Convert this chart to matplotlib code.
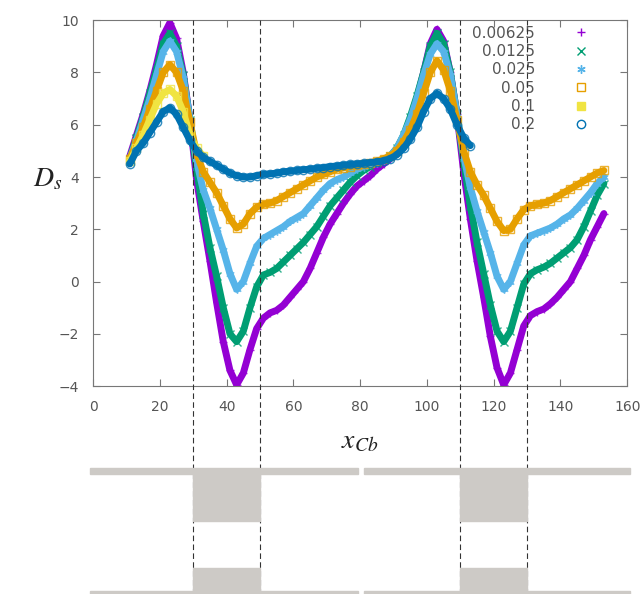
import numpy as np
import matplotlib
matplotlib.use('Agg')
import matplotlib.pyplot as plt
from matplotlib.lines import Line2D
from matplotlib.patches import Rectangle

plt.rcParams['mathtext.fontset'] = 'stix'

# Data (x step 2)
x_full = np.arange(11, 154, 2)
x_yellow = np.arange(11, 34, 2)
x_blue = np.arange(11, 114, 2)

ds_00625 = [4.8, 5.6, 6.4, 7.3, 8.3, 9.4, 9.9, 9.3, 8.0, 6.2,
            3.9, 2.3, 0.8, -0.8, -2.3, -3.4, -3.95, -3.5, -2.6, -1.8,
            -1.4, -1.2, -1.1, -0.9, -0.6, -0.3, 0.0, 0.5, 1.1, 1.7,
            2.2, 2.6, 3.0, 3.35, 3.65, 3.85, 4.05, 4.3, 4.5, 4.7,
            5.0, 5.5, 6.2, 7.0, 8.0, 9.1, 9.65, 9.2, 8.0, 6.4,
            4.2, 2.4, 0.8, -0.6, -2.1, -3.3, -3.95, -3.5, -2.6, -1.7,
            -1.3, -1.15, -1.05, -0.85, -0.6, -0.3, 0.0, 0.5, 1.0, 1.6,
            2.1, 2.6]
ds_0125 = [4.7, 5.5, 6.3, 7.2, 8.1, 9.1, 9.5, 9.0, 7.9, 6.2,
           4.3, 2.6, 1.3, 0.2, -1.0, -2.0, -2.3, -1.9, -1.0, -0.2,
           0.25, 0.35, 0.5, 0.75, 1.0, 1.25, 1.5, 1.8, 2.1, 2.5,
           2.9, 3.2, 3.5, 3.8, 4.05, 4.25, 4.4, 4.55, 4.65, 4.8,
           5.1, 5.6, 6.3, 7.1, 8.0, 9.0, 9.5, 9.1, 8.0, 6.4,
           4.6, 2.9, 1.5, 0.3, -0.9, -1.9, -2.3, -1.9, -1.0, -0.1,
           0.3, 0.45, 0.55, 0.7, 0.9, 1.1, 1.3, 1.6, 2.1, 2.7,
           3.3, 3.75]
ds_025 = [4.7, 5.4, 6.2, 7.0, 7.9, 8.8, 9.2, 8.8, 7.8, 6.2,
          4.6, 3.5, 2.8, 2.0, 1.2, 0.3, -0.3, 0.0, 0.7, 1.35,
          1.65, 1.8, 1.95, 2.1, 2.3, 2.45, 2.6, 2.9, 3.2, 3.5,
          3.75, 3.9, 4.0, 4.15, 4.3, 4.4, 4.5, 4.55, 4.65, 4.8,
          5.1, 5.6, 6.2, 7.0, 7.9, 8.7, 9.1, 8.8, 7.9, 6.4,
          4.8, 3.6, 2.7, 1.9, 1.1, 0.2, -0.3, 0.0, 0.7, 1.4,
          1.75, 1.85, 1.95, 2.05, 2.2, 2.4, 2.55, 2.8, 3.1, 3.4,
          3.75, 4.0]
ds_05 = [4.7, 5.3, 5.9, 6.6, 7.3, 8.0, 8.3, 8.0, 7.3, 6.1,
         4.9, 4.2, 3.8, 3.4, 2.9, 2.4, 2.05, 2.2, 2.6, 2.85,
         2.95, 3.0, 3.1, 3.25, 3.4, 3.55, 3.7, 3.85, 4.0, 4.1,
         4.2, 4.3, 4.35, 4.4, 4.45, 4.5, 4.55, 4.6, 4.7, 4.8,
         5.0, 5.35, 5.8, 6.4, 7.2, 8.0, 8.45, 8.1, 7.3, 6.2,
         5.0, 4.2, 3.7, 3.3, 2.8, 2.3, 1.95, 2.0, 2.4, 2.75,
         2.9, 2.95, 3.0, 3.1, 3.25, 3.4, 3.55, 3.7, 3.85, 4.0,
         4.15, 4.25]
ds_1 = [4.6, 5.1, 5.6, 6.2, 6.8, 7.2, 7.35, 7.1, 6.5, 5.6, 5.1, 4.8]
ds_2 = [4.5, 5.0, 5.3, 5.7, 6.1, 6.5, 6.65, 6.4, 5.9, 5.4,
        5.0, 4.75, 4.6, 4.45, 4.3, 4.15, 4.05, 4.0, 4.0, 4.05,
        4.1, 4.12, 4.15, 4.2, 4.22, 4.25, 4.28, 4.3, 4.33, 4.36,
        4.4, 4.42, 4.45, 4.48, 4.5, 4.52, 4.55, 4.58, 4.62, 4.7,
        4.85, 5.1, 5.45, 5.9, 6.5, 7.0, 7.2, 7.0, 6.6, 6.0,
        5.5, 5.2]

labels = ['0.00625', '0.0125', '0.025', '0.05', '0.1', '0.2']
xs = [x_full, x_full, x_full, x_full, x_yellow, x_blue]
ys = [ds_00625, ds_0125, ds_025, ds_05, ds_1, ds_2]
colors = ['#9400D3', '#009E73', '#56B4E9', '#E69F00', '#F0E442', '#0072B2']
markers = ['+', 'x', (6, 2, 0), 's', 's', 'o']
filled = [True, True, True, False, True, False]

# interfaces (dashed) and the strip layout underneath
interfaces = [30, 50, 110, 130]
blocks = [(30, 50), (110, 130)]

gray = '#555555'
fig = plt.figure(figsize=(6.42, 5.94), dpi=100)
ax = fig.add_axes([0.145, 0.350, 0.832, 0.616])

for x, y, c, m, f in zip(xs, ys, colors, markers, filled):
    ax.plot(x, y, color=c, lw=5, solid_capstyle='round', solid_joinstyle='round')
    ax.plot(x, y, ls='none', marker=m, ms=6, mew=1.0, mfc='none', mec=c, alpha=0.8)

ax.set_xlim(0, 160)
ax.set_ylim(-4, 10)
ax.set_xticks(range(0, 161, 20))
ax.set_yticks(range(-4, 11, 2))
ax.tick_params(direction='in', top=True, right=True, length=5,
               colors='#777777', labelcolor=gray, labelsize=10, pad=10)
for s in ax.spines.values():
    s.set_color('#777777')

handles = []
for c, m, f, lab in zip(colors, markers, filled, labels):
    handles.append(Line2D([0], [0], ls='none', marker=m, ms=6, mew=1.0,
                          color=c, mfc=c if f else 'none', mec=c, label=lab))
leg = ax.legend(handles=handles, loc='upper right', bbox_to_anchor=(0.942, 0.985),
                markerfirst=False, frameon=False, fontsize=11,
                handlelength=2, handletextpad=2, labelspacing=0.22,
                borderpad=0, borderaxespad=0)
for t in leg.get_texts():
    t.set_color(gray)

# dashed interface lines running from the plot top to the figure bottom
over = fig.add_axes([0.145, 0.0, 0.832, 0.966], facecolor='none')
over.set_xlim(0, 160)
over.set_ylim(0, 1)
over.axis('off')
for xv in interfaces:
    over.axvline(xv, color='#333333', lw=0.8, ls=(0, (5, 3)))

# schematic strip below the plot
strip = fig.add_axes([0.145, 0.0, 0.832, 0.24], facecolor='none', zorder=0)
strip.set_xlim(0, 160)
strip.set_ylim(0, 142.6)
strip.axis('off')
bar_col = '#cdcac6'
for x0, x1 in [(-0.8, 79.5), (81.0, 160.8)]:
    strip.add_patch(Rectangle((x0, 120.5), x1 - x0, 5.5, color=bar_col, clip_on=False))
    strip.add_patch(Rectangle((x0, 0), x1 - x0, 3.5, color=bar_col, clip_on=False))
for x0, x1 in blocks:
    strip.add_patch(Rectangle((x0, 73), x1 - x0, 48, color=bar_col))
    strip.add_patch(Rectangle((x0, 0), x1 - x0, 26, color=bar_col))

fig.text(0.075, 0.70, r'$D_s$', fontsize=20, color='#222222', ha='center', va='center')
fig.text(0.56, 0.258, r'$x_{Cb}$', fontsize=20, color='#222222', ha='center', va='center')

fig.savefig('out.png', dpi=100)
